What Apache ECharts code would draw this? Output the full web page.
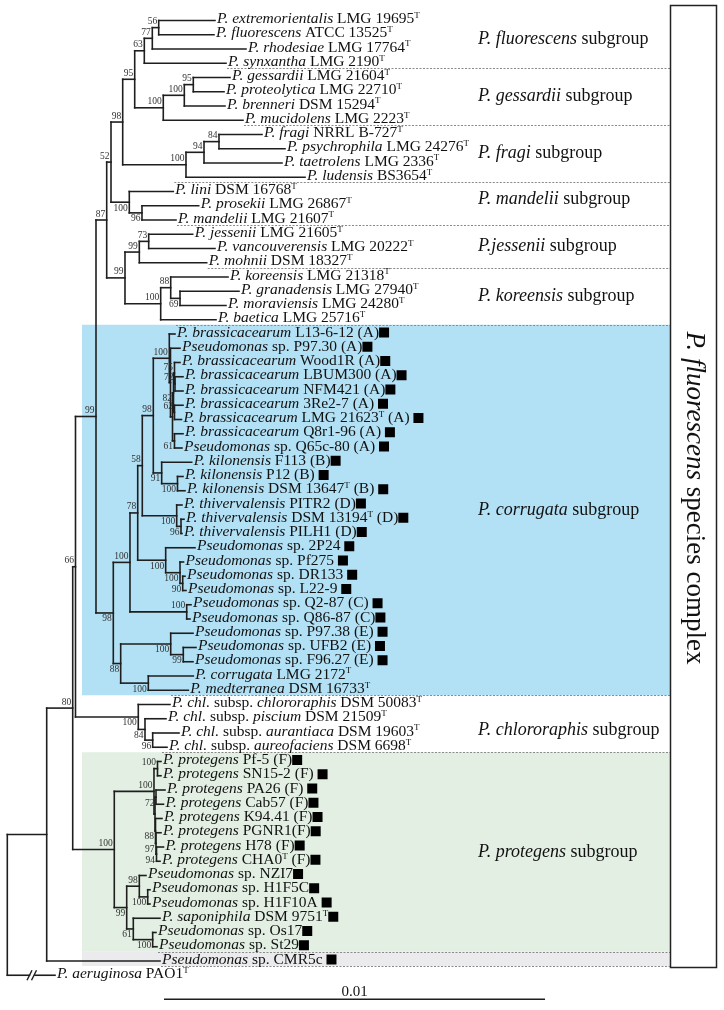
<!DOCTYPE html>
<html><head><meta charset="utf-8">
<script src="https://cdn.jsdelivr.net/npm/echarts@6/dist/echarts.min.js"></script>
<style>html,body{margin:0;padding:0;background:#fff}#c{width:724px;height:1010px}</style>
</head><body><div id="c"></div>
<script>
// ---------------- DATA ----------------
// leaf labels, in row order (* italic *, ^T superscript type strain, ■ marker)
const leafNames = [
 '*P. extremorientalis* LMG 19695^T','*P. fluorescens* ATCC 13525^T','*P. rhodesiae* LMG 17764^T','*P. synxantha* LMG 2190^T',
 '*P. gessardii* LMG 21604^T','*P. proteolytica* LMG 22710^T','*P. brenneri* DSM 15294^T','*P. mucidolens* LMG 2223^T',
 '*P. fragi* NRRL B-727^T','*P. psychrophila* LMG 24276^T','*P. taetrolens* LMG 2336^T','*P. ludensis* BS3654^T',
 '*P. lini* DSM 16768^T','*P. prosekii* LMG 26867^T','*P. mandelii* LMG 21607^T',
 '*P. jessenii* LMG 21605^T','*P. vancouverensis* LMG 20222^T','*P. mohnii* DSM 18327^T',
 '*P. koreensis* LMG 21318^T','*P. granadensis* LMG 27940^T','*P. moraviensis* LMG 24280^T','*P. baetica* LMG 25716^T',
 '*P. brassicacearum* L13-6-12 (A)■','*Pseudomonas* sp. P97.30 (A)■','*P. brassicacearum* Wood1R (A)■','*P. brassicacearum* LBUM300 (A)■',
 '*P. brassicacearum* NFM421 (A)■','*P. brassicacearum* 3Re2-7 (A) ■','*P. brassicacearum* LMG 21623^T (A) ■','*P. brassicacearum* Q8r1-96 (A) ■',
 '*Pseudomonas* sp. Q65c-80 (A) ■','*P. kilonensis* F113 (B)■','*P. kilonensis* P12 (B) ■','*P. kilonensis* DSM 13647^T (B) ■',
 '*P. thivervalensis* PITR2 (D)■','*P. thivervalensis* DSM 13194^T (D)■','*P. thivervalensis* PILH1 (D)■',
 '*Pseudomonas* sp. 2P24 ■','*Pseudomonas* sp. Pf275 ■','*Pseudomonas* sp. DR133 ■','*Pseudomonas* sp. L22-9 ■',
 '*Pseudomonas* sp. Q2-87 (C) ■','*Pseudomonas* sp. Q86-87 (C)■','*Pseudomonas* sp. P97.38 (E) ■','*Pseudomonas* sp. UFB2 (E) ■',
 '*Pseudomonas* sp. F96.27 (E) ■','*P. corrugata* LMG 2172^T','*P. medterranea* DSM 16733^T',
 '*P. chl.* subsp. *chlororaphis* DSM 50083^T','*P. chl.* subsp. *piscium* DSM 21509^T','*P. chl.* subsp. *aurantiaca* DSM 19603^T','*P. chl.* subsp. *aureofaciens* DSM 6698^T',
 '*P. protegens* Pf-5 (F)■','*P. protegens* SN15-2 (F) ■','*P. protegens* PA26 (F) ■','*P. protegens* Cab57 (F)■',
 '*P. protegens* K94.41 (F)■','*P. protegens* PGNR1(F)■','*P. protegens* H78 (F)■','*P. protegens* CHA0^T (F)■',
 '*Pseudomonas* sp. NZI7■','*Pseudomonas* sp. H1F5C■','*Pseudomonas* sp. H1F10A ■','*P. saponiphila* DSM 9751^T■',
 '*Pseudomonas* sp. Os17■','*Pseudomonas* sp. St29■','*Pseudomonas* sp. CMR5c ■','*P. aeruginosa* PAO1^T'
];
// root-to-tip distance of each leaf (units of 1e-4 substitutions/site)
const tipDepth = [
 54.51,54.25,62.65,57.40, 58.45,56.88,57.14,61.86, 66.85,72.89,72.10,78.14, 43.57,50.24,44.28,
 48.66,54.51,52.34, 57.93,60.81,57.40,54.78,
 44.02,45.33,45.33,46.12,46.12,46.12,45.72,46.12,45.85, 48.40,46.12,46.64, 45.85,46.38,45.85,
 49.27,46.25,46.64,46.90, 48.22,47.95, 48.74,49.53,48.74, 48.82,47.51,
 42.70,41.65,45.07,41.92,
 40.34,40.34,41.39,41.00,40.60,40.34,41.00,40.08, 36.40,37.45,37.45,40.08,39.03,39.29,
 40.08,12.52
];
// internal nodes: [id, root-to-node distance (1e-4), bootstrap, children]
const treeNodes = [
 ['n56',39.74,'56',[0,1]], ['n77',38.06,'77',['n56',2]], ['n63',35.96,'63',['n77',3]],
 ['n95g',48.82,'95',[4,5]], ['n100g2',46.46,'100',['n95g',6]], ['n100g',40.94,'100',['n100g2',7]],
 ['n95',33.44,'95',['n63','n100g']],
 ['n84',55.56,'84',[8,9]], ['n94',51.63,'94',['n84',10]], ['n100f',46.90,'100',['n94',11]],
 ['n98',30.29,'98',['n95','n100f']],
 ['n96m',35.35,'96',[13,14]], ['n100m',32.02,'100',[12,'n96m']],
 ['n52',27.22,'52',['n98','n100m']],
 ['n73',37.11,'73',[15,16]], ['n99j',34.65,'99',['n73',17]],
 ['n69',45.33,'69',[19,20]], ['n88k',42.89,'88',[18,'n69']], ['n100k',40.26,'100',['n88k',21]],
 ['n99jk',30.89,'99',['n99j','n100k']],
 ['n87',26.09,'87',['n52','n99jk']],
 ['n72a',44.02,'72',[25,26]], ['n75',43.88,'75',[24,'n72a']], ['n62',43.88,'62',[27,28]],
 ['n82',43.62,'82',['n75','n62']], ['n61a',43.88,'61',[29,30]], ['nA2',43.36,'',['n82','n61a']],
 ['nA1',42.83,'',[23,'nA2']], ['nA',42.52,'100',[22,'nA1']],
 ['n100kil',44.67,'100',[32,33]], ['n91',40.52,'91',[31,'n100kil']],
 ['n98b',38.32,'98',['nA','n91']],
 ['n96t',45.59,'96',[35,36]], ['n100t',44.46,'100',[34,'n96t']],
 ['n58',35.43,'58',['n98b','n100t']],
 ['n90',46.04,'90',[39,40]], ['n100p2',45.33,'100',[38,'n90']], ['n100p1',41.57,'100',[37,'n100p2']],
 ['n78',34.23,'78',['n58','n100p1']],
 ['n100q',47.09,'100',[41,42]], ['n100c',32.20,'100',['n78','n100q']],
 ['n99e',46.19,'99',[44,45]], ['n100e',42.89,'100',[43,'n99e']], ['n100cm',37.01,'100',[46,47]],
 ['n88c',29.76,'88',['n100e','n100cm']], ['n98c',27.82,'98',['n100c','n88c']],
 ['n99',23.28,'99',['n87','n98c']],
 ['n96ch',38.16,'96',[50,51]], ['n84ch',36.14,'84',[49,'n96ch']], ['n100ch',34.38,'100',[48,'n84ch']],
 ['n66',17.90,'66',['n99','n100ch']],
 ['n100pf',39.42,'100',[52,53]], ['n72p',39.03,'72',[54,55]], ['n94p',39.16,'94',[58,59]],
 ['n97p',39.03,'97',[57,'n94p']], ['n88p',38.90,'88',[56,'n97p']], ['nF2',38.77,'',['n72p','n88p']],
 ['nF',38.50,'100',['n100pf','nF2']],
 ['n100h',36.85,'100',[61,62]], ['n98p',34.65,'98',[60,'n100h']],
 ['n100os',38.16,'100',[64,65]], ['n61p',33.07,'61',[63,'n100os']],
 ['n99p',31.34,'99',['n98p','n61p']], ['n100P',28.08,'100',['nF','n99p']],
 ['n80',17.17,'80',['n66','n100P']], ['n46',10.34,'',['n80',66]], ['root',0,'',['n46',67]]
];
const supportBelow = ['n96m','n100m','n69','n82','n61a','n100kil','n91','n96t','n100t','n90','n100p2','n100p1',
 'n99e','n100e','n100cm','n88c','n98c','n96ch','n84ch','n100ch','n72p','n94p','n97p','n88p','n100h','n100os','n61p','n99p'];
const subgroups = [
 ['*P. fluorescens* subgroup',0,3], ['*P. gessardii* subgroup',4,7], ['*P. fragi* subgroup',8,11],
 ['*P. mandelii* subgroup',12,14], ['*P.jessenii* subgroup',15,17], ['*P. koreensis* subgroup',18,21],
 ['*P. corrugata* subgroup',22,47], ['*P. chlororaphis* subgroup',48,51], ['*P. protegens* subgroup',52,65]
];
const shadedGroups = [[22,47],[52,65],[66,66]];
const separatorAfterRows = [3,7,11,14,17,21,47,51,65,66];
const scaleBar = [41.13, 100, '0.01'];
const complexTitle = '*P. fluorescens* species complex';

// ---------------- LAYOUT / STYLE ----------------
const PX_PER_UNIT = 3.81, ROW_H = 14.25, ROOT_X = 7.3, ROW0_Y = 20.5;
const X_MAX = 180, Y_MIN = -1, Y_MAX = 69;
const SERIF = 'Liberation Serif';
const INK = '#1e1e1e';
const shadeColors = ['#b2e0f4', '#e2efe2', '#ebebed'];
const SHADE_L = 82, SHADE_R = 670;
const LABEL_X = 478;
const labelNudge = {3: -4, 7: 7};

const nodeMap = {};
treeNodes.forEach(n => { nodeMap[n[0]] = {id: n[0], depth: n[1], support: n[2], kids: n[3]}; });
function nodeY(k) {
  if (typeof k === 'number') return k;
  const n = nodeMap[k];
  if (n.y === undefined) { const ys = n.kids.map(nodeY); n.y = (ys[0] + ys[ys.length - 1]) / 2; }
  return n.y;
}
function depthOf(k) { return typeof k === 'number' ? tipDepth[k] : nodeMap[k].depth; }
const segs = [];
treeNodes.forEach(([id, d, sup, kids]) => {
  const ys = kids.map(nodeY);
  segs.push([d, ys[0], d, ys[ys.length - 1], 0]);
  kids.forEach((k, i) => segs.push([d, ys[i], depthOf(k), ys[i], k === 67 ? 1 : 0]));
});

function toRich(str) {
  return str.split(/(\*[^*]+\*|\^T|■)/).filter(s => s.length).map(s => {
    if (s[0] === '*') return '{i|' + s.slice(1, -1) + '}';
    if (s === '^T') return '{s|T}';
    if (s === '■') return '{q|\u00a0}';
    return '{r|' + s + '}';
  }).join('');
}
function richSet(size, supSize) {
  return {
    i: {fontFamily: SERIF, fontStyle: 'italic', fontSize: size, fill: '#111'},
    r: {fontFamily: SERIF, fontSize: size, fill: '#111'},
    s: {fontFamily: SERIF, fontSize: supSize, fill: '#111', verticalAlign: 'top'},
    q: {fontSize: size, width: 10, height: 10, backgroundColor: '#000'}
  };
}
const leafRich = richSet(15.5, 9);
const groupRich = richSet(18, 10);

const chart = echarts.init(document.getElementById('c'));
const lineStyle = {stroke: INK, lineWidth: 1.6, lineCap: 'square'};

const option = {
  animation: false,
  grid: {left: ROOT_X, top: ROW0_Y + Y_MIN * ROW_H, width: X_MAX * PX_PER_UNIT, height: (Y_MAX - Y_MIN) * ROW_H},
  xAxis: {type: 'value', min: 0, max: X_MAX, show: false},
  yAxis: {type: 'value', min: Y_MIN, max: Y_MAX, inverse: true, show: false},
  series: [
    { // shading + dashed separators
      type: 'custom', z: 1, silent: true, data: [[0, 0]],
      renderItem(params, api) {
        const ch = [];
        const rowPx = r => api.coord([0, r])[1];
        const tipPx = r => api.coord([tipDepth[r], 0])[0];
        shadedGroups.forEach((g, i) => {
          const y1 = rowPx(g[0]) - 9.25, y2 = rowPx(g[1]) + 5;
          ch.push({type: 'rect', shape: {x: SHADE_L, y: y1, width: SHADE_R - SHADE_L, height: y2 - y1}, style: {fill: shadeColors[i]}});
        });
        separatorAfterRows.forEach(r => {
          const rows = [r, r + 1].filter(x => x < 67);
          const x0 = Math.min(...rows.map(tipPx)) + 1;
          const y = Math.round(rowPx(r) + 5) + 0.5;
          ch.push({type: 'line', shape: {x1: x0, y1: y, x2: SHADE_R, y2: y}, style: {stroke: '#8a8a8a', lineWidth: 1, lineDash: [2, 1.5]}});
        });
        return {type: 'group', children: ch};
      }
    },
    { // tree branches
      type: 'custom', z: 3, silent: true,
      data: segs.map((s, i) => [s[0], s[1], i]),
      renderItem(params, api) {
        const s = segs[params.dataIndex];
        const p1 = api.coord([s[0], s[1]]), p2 = api.coord([s[2], s[3]]);
        if (!s[4]) return {type: 'line', shape: {x1: p1[0], y1: p1[1], x2: p2[0], y2: p2[1]}, style: lineStyle};
        const bx = 32, y = p1[1];
        const sl = {stroke: INK, lineWidth: 1.4};
        return {type: 'group', children: [
          {type: 'line', shape: {x1: p1[0], y1: y, x2: bx - 2.5, y2: y}, style: lineStyle},
          {type: 'line', shape: {x1: bx + 3, y1: y, x2: p2[0], y2: y}, style: lineStyle},
          {type: 'line', shape: {x1: bx - 5, y1: y + 5, x2: bx, y2: y - 5}, style: sl},
          {type: 'line', shape: {x1: bx - 0.5, y1: y + 5, x2: bx + 4.5, y2: y - 5}, style: sl}
        ]};
      }
    },
    { // leaf labels
      type: 'custom', z: 4, silent: true,
      data: tipDepth.map((d, i) => [d, i]),
      renderItem(params, api) {
        const i = params.dataIndex;
        const p = api.coord([tipDepth[i], i]);
        return {type: 'text', x: p[0] + 2, y: p[1] - 1.5,
          style: {text: toRich(leafNames[i]), rich: leafRich, align: 'left', verticalAlign: 'middle', fontFamily: SERIF, fontSize: 15.5}};
      }
    },
    { // bootstrap values
      type: 'custom', z: 4, silent: true,
      data: treeNodes.map(n => [n[1], nodeY(n[0])]),
      renderItem(params, api) {
        const n = treeNodes[params.dataIndex];
        if (!n[2]) return {type: 'group', children: []};
        const p = api.coord([n[1], nodeY(n[0])]);
        const below = supportBelow.includes(n[0]);
        return {type: 'text', x: p[0] - 1.5, y: below ? p[1] + 1 : p[1] - 1,
          style: {text: n[2], fill: '#333', fontFamily: SERIF, fontSize: 9.5, align: 'right', verticalAlign: below ? 'top' : 'bottom'}};
      }
    },
    { // subgroup names
      type: 'custom', z: 4, silent: true,
      data: subgroups.map(g => [0, (g[1] + g[2]) / 2]),
      renderItem(params, api) {
        const g = subgroups[params.dataIndex];
        const yTop = api.coord([0, g[1]])[1] - 9.25, yBot = api.coord([0, g[2]])[1] + 5;
        return {type: 'text', x: LABEL_X, y: (yTop + yBot) / 2 + (labelNudge[params.dataIndex] || 0),
          style: {text: toRich(g[0]), rich: groupRich, align: 'left', verticalAlign: 'middle', fontFamily: SERIF, fontSize: 18}};
      }
    },
    { // scale bar
      type: 'custom', z: 4, silent: true,
      data: [[scaleBar[0], 67]],
      renderItem(params, api) {
        const a = api.coord([scaleBar[0], 67]), b = api.coord([scaleBar[0] + scaleBar[1], 67]);
        const y = a[1] + 24;
        return {type: 'group', children: [
          {type: 'line', shape: {x1: a[0], y1: y, x2: b[0], y2: y}, style: {stroke: INK, lineWidth: 1.6}},
          {type: 'text', x: (a[0] + b[0]) / 2, y: y - 7.5, style: {text: scaleBar[2], fill: '#111', fontFamily: SERIF, fontSize: 15, align: 'center', verticalAlign: 'middle'}}
        ]};
      }
    }
  ],
  graphic: [
    {type: 'rect', z: 5, shape: {x: 670.5, y: 5.5, width: 46, height: 962}, style: {fill: 'none', stroke: '#222', lineWidth: 1.5}},
    {type: 'text', z: 5, x: 694, y: 498, rotation: -Math.PI / 2,
      style: {text: toRich(complexTitle), rich: richSet(27, 14), align: 'center', verticalAlign: 'middle', fontFamily: SERIF, fontSize: 27}}
  ]
};
chart.setOption(option);
</script></body></html>
